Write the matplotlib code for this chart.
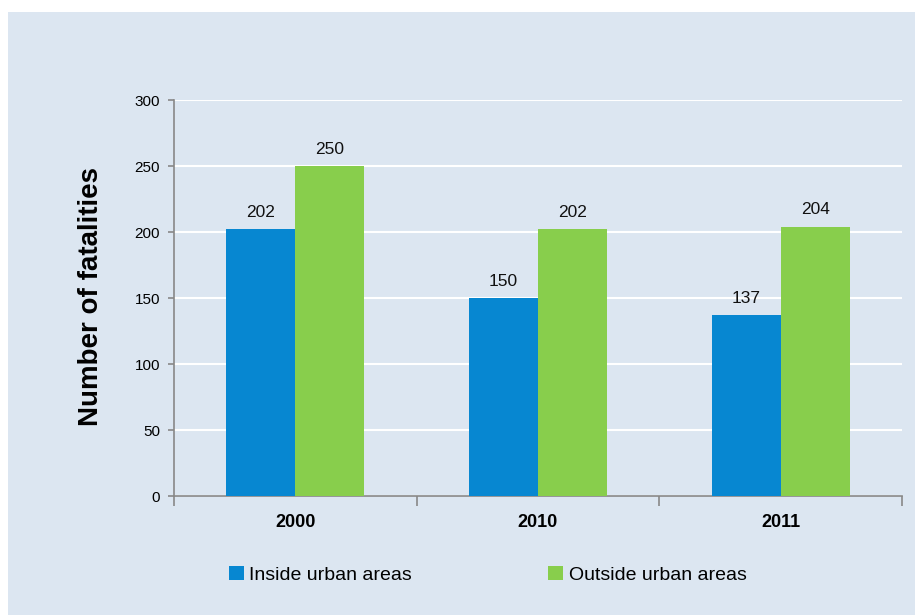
import numpy as np
import matplotlib.pyplot as plt
from matplotlib.patches import Rectangle

years = ['2000', '2010', '2011']
inside = [202, 150, 137]
outside = [250, 202, 204]

blue = '#0787D1'
green = '#88CE4C'
bg = '#DCE6F1'

plt.rcParams['font.family'] = ['Liberation Sans', 'DejaVu Sans']

fig = plt.figure(figsize=(9.15, 6.15), dpi=100)
fig.patch.set_facecolor('white')
fig.patches.append(Rectangle((8 / 915, 0), 1, 1 - 12 / 615, transform=fig.transFigure,
                             facecolor=bg, edgecolor='none', zorder=-10))

ax = fig.add_axes([174 / 915, 1 - 496 / 615, (902 - 174) / 915, (496 - 100) / 615])
ax.set_facecolor('none')

x = np.arange(len(years)) + 0.5
w = 0.284
b1 = ax.bar(x - w / 2, inside, w, color=blue, label='Inside urban areas', zorder=3)
b2 = ax.bar(x + w / 2, outside, w, color=green, label='Outside urban areas', zorder=3)

for bars, vals in ((b1, inside), (b2, outside)):
    for r, v in zip(bars, vals):
        ax.text(r.get_x() + r.get_width() / 2, v + 7, str(v), ha='center', va='bottom',
                fontsize=12.5, color='#111111')

ax.set_xlim(0, 3)
ax.set_ylim(0, 300)
ax.set_yticks(range(0, 301, 50))
ax.yaxis.grid(True, color='white', linewidth=1.5, zorder=0)
ax.set_axisbelow(True)

ax.set_xticks([0, 1, 2, 3])
ax.set_xticklabels([])
ax.tick_params(axis='x', length=7, color='#888888', width=1.2)
ax.set_xticks(x, minor=True)
ax.set_xticklabels(years, minor=True, fontsize=13, fontweight='bold')
ax.tick_params(axis='x', which='minor', length=0, pad=13)
ax.tick_params(axis='y', length=4, color='#888888', width=1.2, labelsize=11, pad=6)

for s in ('top', 'right'):
    ax.spines[s].set_visible(False)
for s in ('left', 'bottom'):
    ax.spines[s].set_color('#888888')
    ax.spines[s].set_linewidth(1.2)

fig.text(91 / 915, 1 - 297 / 615, 'Number of fatalities', rotation=90, ha='center', va='center',
         fontsize=20, fontweight='bold')

leg = fig.legend(handles=[b1, b2], loc='center left', bbox_to_anchor=(229 / 915, 1 - 575 / 615),
                 ncol=2, frameon=False, fontsize=14, handlelength=0.75, handleheight=0.75,
                 handletextpad=0.3, columnspacing=7.0, borderpad=0, borderaxespad=0)

fig.savefig('out.png', dpi=100)
